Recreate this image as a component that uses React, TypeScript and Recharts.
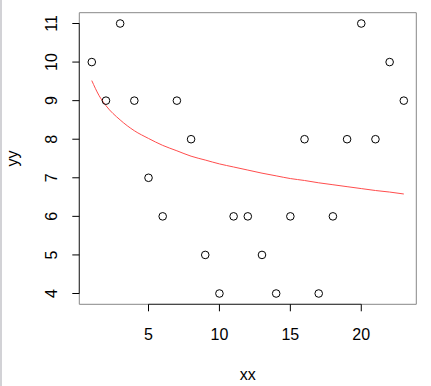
import { ComposedChart, Line, ReferenceArea, ReferenceLine, Scatter, XAxis, YAxis } from 'recharts'

// scatter points (xx, yy)
const xx = [1, 2, 3, 4, 5, 6, 7, 8, 9, 10, 11, 12, 13, 14, 15, 16, 17, 18, 19, 20, 21, 22, 23]
const yy = [10, 9, 11, 9, 7, 6, 9, 8, 5, 4, 6, 6, 5, 4, 6, 8, 4, 6, 8, 11, 8, 10, 9]

// fitted red curve
const fitX = [1, 1.5, 2, 3, 4, 5, 6, 7, 8, 9, 10, 11, 12, 13, 14, 15, 16, 17, 18, 19, 20, 21, 22, 23]
const fitY = [
  9.52, 9.14, 8.87, 8.5, 8.22, 8.02, 7.84, 7.7, 7.56, 7.46, 7.36, 7.28, 7.2, 7.12, 7.05, 6.98, 6.93, 6.87,
  6.82, 6.77, 6.72, 6.67, 6.63, 6.58,
]

const xTicks = [5, 10, 15, 20]
const yTicks = [4, 5, 6, 7, 8, 9, 10, 11]

const X_DOMAIN: [number, number] = [0.12, 23.88]
const Y_DOMAIN: [number, number] = [3.72, 11.28]

const points = xx.map((x, i) => ({ x, y: yy[i] }))
const fit = fitX.map((x, i) => ({ x, y: fitY[i] }))

const FONT = '"Liberation Sans", Arial, Helvetica, sans-serif'

function XTick({ x, y, payload }: any) {
  return (
    <text x={x} y={y + 27} textAnchor="middle" fontSize={16} fontFamily={FONT} fill="#000">
      {payload.value}
    </text>
  )
}

function YTick({ x, y, payload }: any) {
  const bx = x - 13
  return (
    <text
      x={bx}
      y={y}
      transform={`rotate(-90, ${bx}, ${y})`}
      textAnchor="middle"
      fontSize={16}
      fontFamily={FONT}
      fill="#000"
    >
      {payload.value}
    </text>
  )
}

function Ring({ cx, cy }: any) {
  return <circle cx={cx} cy={cy} r={3.8} fill="none" stroke="#000" strokeWidth={1} />
}

export default function App() {
  return (
    <div style={{ position: 'absolute', left: 0, top: 0, width: 431, height: 386, background: '#fff' }}>
      <div style={{ position: 'absolute', left: 0, top: 0, width: 2, height: 386, background: '#d2d2d6' }} />
      <ComposedChart width={431} height={386} margin={{ top: 12.7, right: 14.7, bottom: 41.7, left: 39.3 }}>
        <XAxis
          type="number"
          dataKey="x"
          domain={X_DOMAIN}
          ticks={xTicks}
          allowDataOverflow
          height={40}
          axisLine={false}
          tickLine={{ stroke: '#000' }}
          tickSize={7}
          tick={<XTick />}
          interval={0}
        />
        <YAxis
          type="number"
          dataKey="y"
          domain={Y_DOMAIN}
          ticks={yTicks}
          allowDataOverflow
          width={40}
          axisLine={false}
          tickLine={{ stroke: '#000' }}
          tickSize={7}
          tick={<YTick />}
          interval={0}
        />
        <ReferenceArea
          x1={X_DOMAIN[0]}
          x2={X_DOMAIN[1]}
          y1={Y_DOMAIN[0]}
          y2={Y_DOMAIN[1]}
          fill="none"
          stroke="#888"
          strokeWidth={1}
        />
        <ReferenceLine
          segment={[
            { x: xTicks[0], y: Y_DOMAIN[0] },
            { x: xTicks[xTicks.length - 1], y: Y_DOMAIN[0] },
          ]}
          stroke="#333"
        />
        <ReferenceLine
          segment={[
            { x: X_DOMAIN[0], y: yTicks[0] },
            { x: X_DOMAIN[0], y: yTicks[yTicks.length - 1] },
          ]}
          stroke="#333"
        />
        <Line
          data={fit}
          dataKey="y"
          type="monotone"
          stroke="#ff4d4d"
          strokeWidth={1}
          dot={false}
          isAnimationActive={false}
        />
        <Scatter data={points} dataKey="y" shape={<Ring />} isAnimationActive={false} />
        <text x={247.8} y={379.5} textAnchor="middle" fontSize={16} fontFamily={FONT} fill="#000">
          xx
        </text>
        <text
          x={18}
          y={158.5}
          transform="rotate(-90, 18, 158.5)"
          textAnchor="middle"
          fontSize={16}
          fontFamily={FONT}
          fill="#000"
        >
          yy
        </text>
      </ComposedChart>
    </div>
  )
}
